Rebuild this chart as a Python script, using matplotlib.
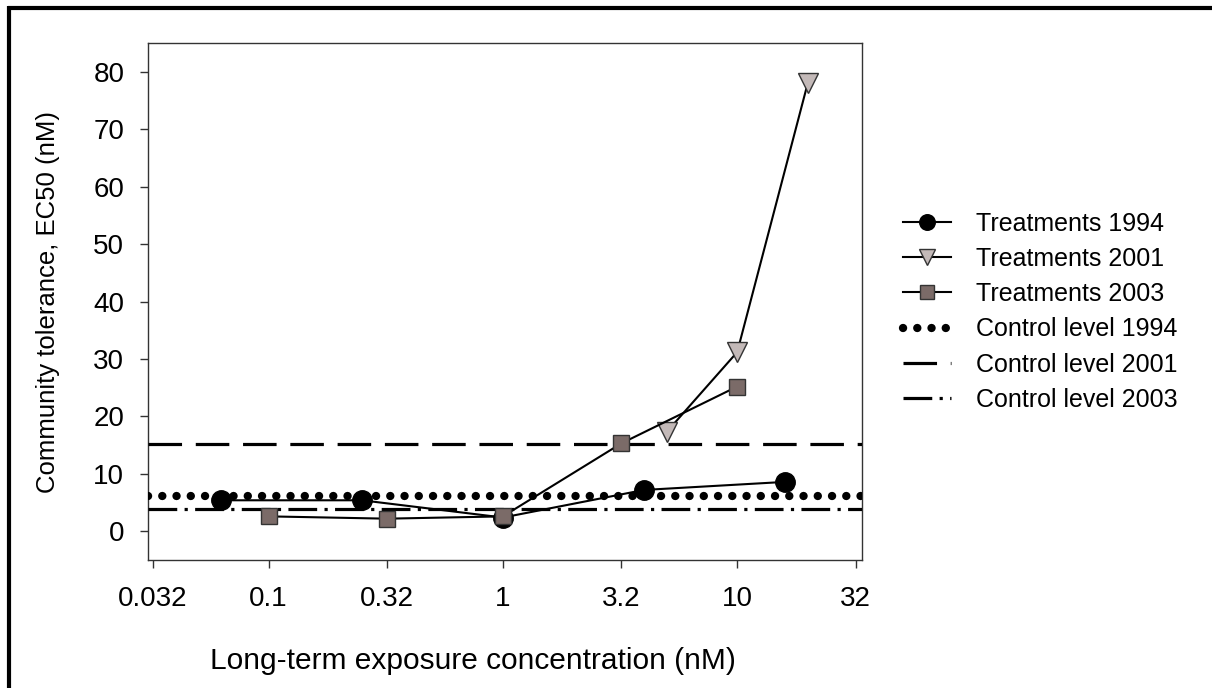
import numpy as np
import matplotlib
matplotlib.use('Agg')
import matplotlib.pyplot as plt
from matplotlib.lines import Line2D

plt.rcParams['font.family'] = ['Liberation Sans', 'DejaVu Sans']

# Data
x_1994 = [0.0625, 0.25, 1, 4, 16]
y_1994 = [5.4, 5.4, 2.4, 7.2, 8.6]
x_2001 = [5, 10, 20]
y_2001 = [17.3, 31.2, 78.0]
x_2003 = [0.1, 0.32, 1, 3.2, 10]
y_2003 = [2.6, 2.2, 2.6, 15.3, 25.2]
ctrl_1994 = 6.2
ctrl_2001 = 15.2
ctrl_2003 = 3.9

xticks = [0.032, 0.1, 0.32, 1, 3.2, 10, 32]
xticklabels = ['0.032', '0.1', '0.32', '1', '3.2', '10', '32']
yticks = [0, 10, 20, 30, 40, 50, 60, 70, 80]

fig = plt.figure(figsize=(12.12, 6.88), dpi=100)
ax = fig.add_axes([0.122, 0.186, 0.589, 0.7515])

ax.plot(x_1994, y_1994, 'k-', lw=1.5, marker='o', ms=14, mfc='black', mec='black',
        label='Treatments 1994', zorder=5)
ax.plot(x_2001, y_2001, 'k-', lw=1.5, marker='v', ms=15, mfc='#c3b9b8', mec='#333333',
        mew=1, label='Treatments 2001', zorder=5)
ax.plot(x_2003, y_2003, 'k-', lw=1.5, marker='s', ms=12, mfc='#7b6b68', mec='#333333',
        mew=1, label='Treatments 2003', zorder=6)

ax.axhline(ctrl_1994, color='black', lw=6, linestyle=(0, (0.01, 1.7)),
           dash_capstyle='round', label='Control level 1994', zorder=3)
ax.axhline(ctrl_2001, color='black', lw=2.3, linestyle=(0, (10.5, 4.3)),
           label='Control level 2001', zorder=3)
ax.axhline(ctrl_2003, color='black', lw=2.3, linestyle=(0, (9, 2.3, 1, 2.3)),
           label='Control level 2003', zorder=3)

ax.set_xscale('log')
ax.set_xlim(0.0305, 34)
ax.set_ylim(-5, 85)
ax.set_xticks(xticks)
ax.set_xticklabels(xticklabels)
ax.xaxis.set_minor_locator(matplotlib.ticker.NullLocator())
ax.set_yticks(yticks)
ax.tick_params(axis='both', labelsize=20, length=6, width=1, color='#333333', direction='out')
ax.tick_params(axis='x', pad=13)
ax.tick_params(axis='y', pad=11)
for s in ax.spines.values():
    s.set_linewidth(1)
    s.set_color('#333333')

ax.set_xlabel('Long-term exposure concentration (nM)', fontsize=21.5)
ax.xaxis.set_label_coords(0.455, -0.168)
ax.set_ylabel('Community tolerance, EC50 (nM)', fontsize=18.5, labelpad=24)

leg = ax.legend(loc='upper left', bbox_to_anchor=(0.737, 0.707), bbox_transform=fig.transFigure,
                frameon=False, fontsize=18, handlelength=1.9, handletextpad=1.0,
                labelspacing=0.45, borderaxespad=0, markerscale=0.8)

# frame at top and left of image
fig.add_artist(Line2D([0.0065, 1.0], [1 - 8/688, 1 - 8/688], color='black', lw=3,
                      transform=fig.transFigure, solid_capstyle='butt'))
fig.add_artist(Line2D([8.5/1212, 8.5/1212], [0, 1 - 6/688], color='black', lw=3,
                      transform=fig.transFigure, solid_capstyle='butt'))

fig.savefig('out.png', dpi=100)
